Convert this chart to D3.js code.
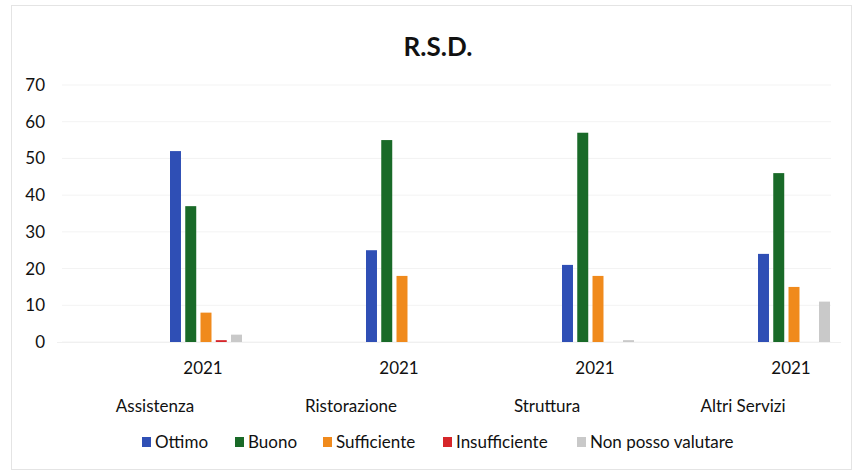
<!DOCTYPE html>
<html>
<head>
<meta charset="utf-8">
<script src="https://cdn.jsdelivr.net/npm/d3@7"></script>
<style>
  body { margin: 0; background: #fff; }
  svg text { font-family: Lato, "Open Sans", sans-serif; fill: #111; }
</style>
</head>
<body>
<div id="chart"></div>
<script>
// data
const categories = ["Assistenza", "Ristorazione", "Struttura", "Altri Servizi"];
const subLabel = "2021";
const seriesNames = ["Ottimo", "Buono", "Sufficiente", "Insufficiente", "Non posso valutare"];
const ottimo = [52, 25, 21, 24];
const buono = [37, 55, 57, 46];
const sufficiente = [8, 18, 18, 15];
const insufficiente = [0.5, 0, 0, 0];
const nonPosso = [2, 0, 0.5, 11];
const yTicks = [0, 10, 20, 30, 40, 50, 60, 70];
const colors = ["#2f4fb5", "#196a28", "#f08a1c", "#d6262a", "#c9c9c9"];

const width = 856, height = 473;
const margin = { top: 85, bottom: 131, left: 57, right: 15 };

const svg = d3.select("#chart").append("svg")
  .attr("width", width).attr("height", height);

svg.append("rect")
  .attr("x", 11.5).attr("y", 5.5)
  .attr("width", width - 16).attr("height", height - 9)
  .attr("fill", "#fff").attr("stroke", "#e4e4e4");

const rows = categories.map((c, i) => ({
  cat: c,
  values: [ottimo[i], buono[i], sufficiente[i], insufficiente[i], nonPosso[i]]
}));

const x = d3.scaleBand()
  .domain(categories)
  .range([margin.left, width - margin.right]);

// bars sit right of the category centre, like the original
const clusterShift = 51;
const xInner = d3.scaleBand()
  .domain(seriesNames)
  .range([-36, 36])
  .paddingInner(0.28);

const y = d3.scaleLinear()
  .domain([0, 70])
  .range([height - margin.bottom, margin.top]);

// faint gridlines
svg.append("g")
  .selectAll("line")
  .data(yTicks)
  .join("line")
  .attr("x1", margin.left + 5).attr("x2", width - margin.right - 10)
  .attr("y1", d => y(d)).attr("y2", d => y(d))
  .attr("stroke", "#f3f3f3");

const yAxis = svg.append("g")
  .attr("transform", `translate(${margin.left - 12},0)`)
  .call(d3.axisLeft(y).tickValues(yTicks).tickSize(0).tickPadding(0));
yAxis.select(".domain").remove();
yAxis.selectAll("text").attr("font-size", 17).attr("font-family", "Lato, sans-serif").attr("fill", "#111");

// bars
svg.append("g")
  .selectAll("g")
  .data(rows)
  .join("g")
  .attr("transform", d => `translate(${x(d.cat) + x.bandwidth() / 2 + clusterShift},0)`)
  .selectAll("rect")
  .data(d => d.values.map((v, i) => ({ key: seriesNames[i], value: v, color: colors[i] })))
  .join("rect")
  .attr("x", d => xInner(d.key))
  .attr("width", xInner.bandwidth())
  .attr("y", d => y(d.value) - (d.value > 0 ? 0 : 1))
  .attr("height", d => Math.max(y(0) - y(d.value), d.value > 0 ? 1.5 : 0))
  .attr("fill", d => d.color);

// axis line
svg.append("line")
  .attr("x1", margin.left).attr("x2", width - margin.right)
  .attr("y1", y(0) + 0.5).attr("y2", y(0) + 0.5)
  .attr("stroke", "#f0f0f0");

// sub labels (year)
svg.append("g")
  .selectAll("text")
  .data(categories)
  .join("text")
  .attr("x", d => x(d) + x.bandwidth() / 2 + clusterShift - 3)
  .attr("y", y(0) + 32)
  .attr("text-anchor", "middle")
  .attr("font-size", 17)
  .text(subLabel);

// category labels
svg.append("g")
  .selectAll("text")
  .data(categories)
  .join("text")
  .attr("x", d => x(d) + x.bandwidth() / 2)
  .attr("y", y(0) + 70)
  .attr("text-anchor", "middle")
  .attr("font-size", 17)
  .text(d => d);

// title
svg.append("text")
  .attr("x", 438).attr("y", 56)
  .attr("text-anchor", "middle")
  .attr("font-size", 26)
  .attr("font-weight", "bold")
  .text("R.S.D.");

// legend
const legendX = [142, 235, 323, 443, 577];
const legend = svg.append("g")
  .selectAll("g")
  .data(seriesNames)
  .join("g")
  .attr("transform", (d, i) => `translate(${legendX[i]},443)`);
legend.append("rect")
  .attr("x", 0).attr("y", -6)
  .attr("width", 9).attr("height", 10)
  .attr("fill", (d, i) => colors[i]);
legend.append("text")
  .attr("x", 13).attr("y", 5)
  .attr("font-size", 17)
  .text(d => d);
</script>
</body>
</html>
